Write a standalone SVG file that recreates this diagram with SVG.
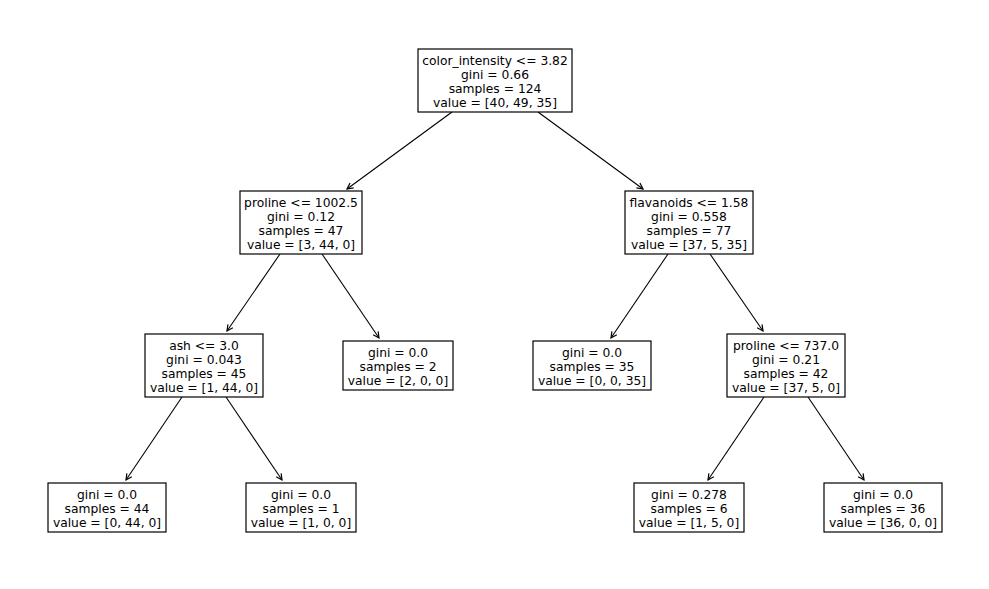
<svg xmlns="http://www.w3.org/2000/svg" width="989" height="589" viewBox="0 0 989 589">
<style>
.box{fill:#fff;stroke:#000;stroke-width:1.2}
text{font-family:"DejaVu Sans",sans-serif;font-size:12.3px;text-anchor:middle;fill:#000}
.e{stroke:#000;stroke-width:1.1;fill:none;marker-end:url(#ah)}
</style>
<defs>
<marker id="ah" markerWidth="10" markerHeight="10" refX="7" refY="4" orient="auto" markerUnits="userSpaceOnUse">
<path d="M1,1 L7,4 L1,7" fill="none" stroke="#000" stroke-width="1.2"/>
</marker>
</defs>
<rect width="989" height="589" fill="#fff"/>
<g id="connectors">
<line class="e" x1="452" y1="112" x2="347" y2="189"/>
<line class="e" x1="538" y1="112" x2="643" y2="189"/>
<line class="e" x1="280" y1="254" x2="227" y2="331"/>
<line class="e" x1="322" y1="254" x2="379" y2="338"/>
<line class="e" x1="668" y1="254" x2="611" y2="338"/>
<line class="e" x1="710" y1="254" x2="763" y2="331"/>
<line class="e" x1="182" y1="397" x2="126" y2="480"/>
<line class="e" x1="226" y1="397" x2="282" y2="480"/>
<line class="e" x1="764" y1="397" x2="708" y2="480"/>
<line class="e" x1="808" y1="397" x2="864" y2="480"/>
</g>
<g id="n0"><rect class="box" x="418" y="49" width="154" height="63"/>
<text x="495" y="64.5">color_intensity &lt;= 3.82</text><text x="495" y="78.5">gini = 0.66</text><text x="495" y="92.5">samples = 124</text><text x="495" y="106.5">value = [40, 49, 35]</text></g>
<g id="n1"><rect class="box" x="240" y="191" width="122" height="63"/>
<text x="301" y="206.5">proline &lt;= 1002.5</text><text x="301" y="220.5">gini = 0.12</text><text x="301" y="234.5">samples = 47</text><text x="301" y="248.5">value = [3, 44, 0]</text></g>
<g id="n2"><rect class="box" x="625" y="191" width="128" height="63"/>
<text x="689" y="206.5">flavanoids &lt;= 1.58</text><text x="689" y="220.5">gini = 0.558</text><text x="689" y="234.5">samples = 77</text><text x="689" y="248.5">value = [37, 5, 35]</text></g>
<g id="n3"><rect class="box" x="145" y="334" width="118" height="63"/>
<text x="204" y="349.5">ash &lt;= 3.0</text><text x="204" y="363.5">gini = 0.043</text><text x="204" y="377.5">samples = 45</text><text x="204" y="391.5">value = [1, 44, 0]</text></g>
<g id="n4"><rect class="box" x="343" y="341" width="110" height="49"/>
<text x="398" y="356.5">gini = 0.0</text><text x="398" y="370.5">samples = 2</text><text x="398" y="384.5">value = [2, 0, 0]</text></g>
<g id="n5"><rect class="box" x="533" y="341" width="118" height="49"/>
<text x="592" y="356.5">gini = 0.0</text><text x="592" y="370.5">samples = 35</text><text x="592" y="384.5">value = [0, 0, 35]</text></g>
<g id="n6"><rect class="box" x="727" y="334" width="118" height="63"/>
<text x="786" y="349.5">proline &lt;= 737.0</text><text x="786" y="363.5">gini = 0.21</text><text x="786" y="377.5">samples = 42</text><text x="786" y="391.5">value = [37, 5, 0]</text></g>
<g id="n7"><rect class="box" x="48" y="483" width="118" height="49"/>
<text x="107" y="498.5">gini = 0.0</text><text x="107" y="512.5">samples = 44</text><text x="107" y="526.5">value = [0, 44, 0]</text></g>
<g id="n8"><rect class="box" x="246" y="483" width="110" height="49"/>
<text x="301" y="498.5">gini = 0.0</text><text x="301" y="512.5">samples = 1</text><text x="301" y="526.5">value = [1, 0, 0]</text></g>
<g id="n9"><rect class="box" x="634" y="483" width="110" height="49"/>
<text x="689" y="498.5">gini = 0.278</text><text x="689" y="512.5">samples = 6</text><text x="689" y="526.5">value = [1, 5, 0]</text></g>
<g id="n10"><rect class="box" x="824" y="483" width="118" height="49"/>
<text x="883" y="498.5">gini = 0.0</text><text x="883" y="512.5">samples = 36</text><text x="883" y="526.5">value = [36, 0, 0]</text></g>
</svg>
